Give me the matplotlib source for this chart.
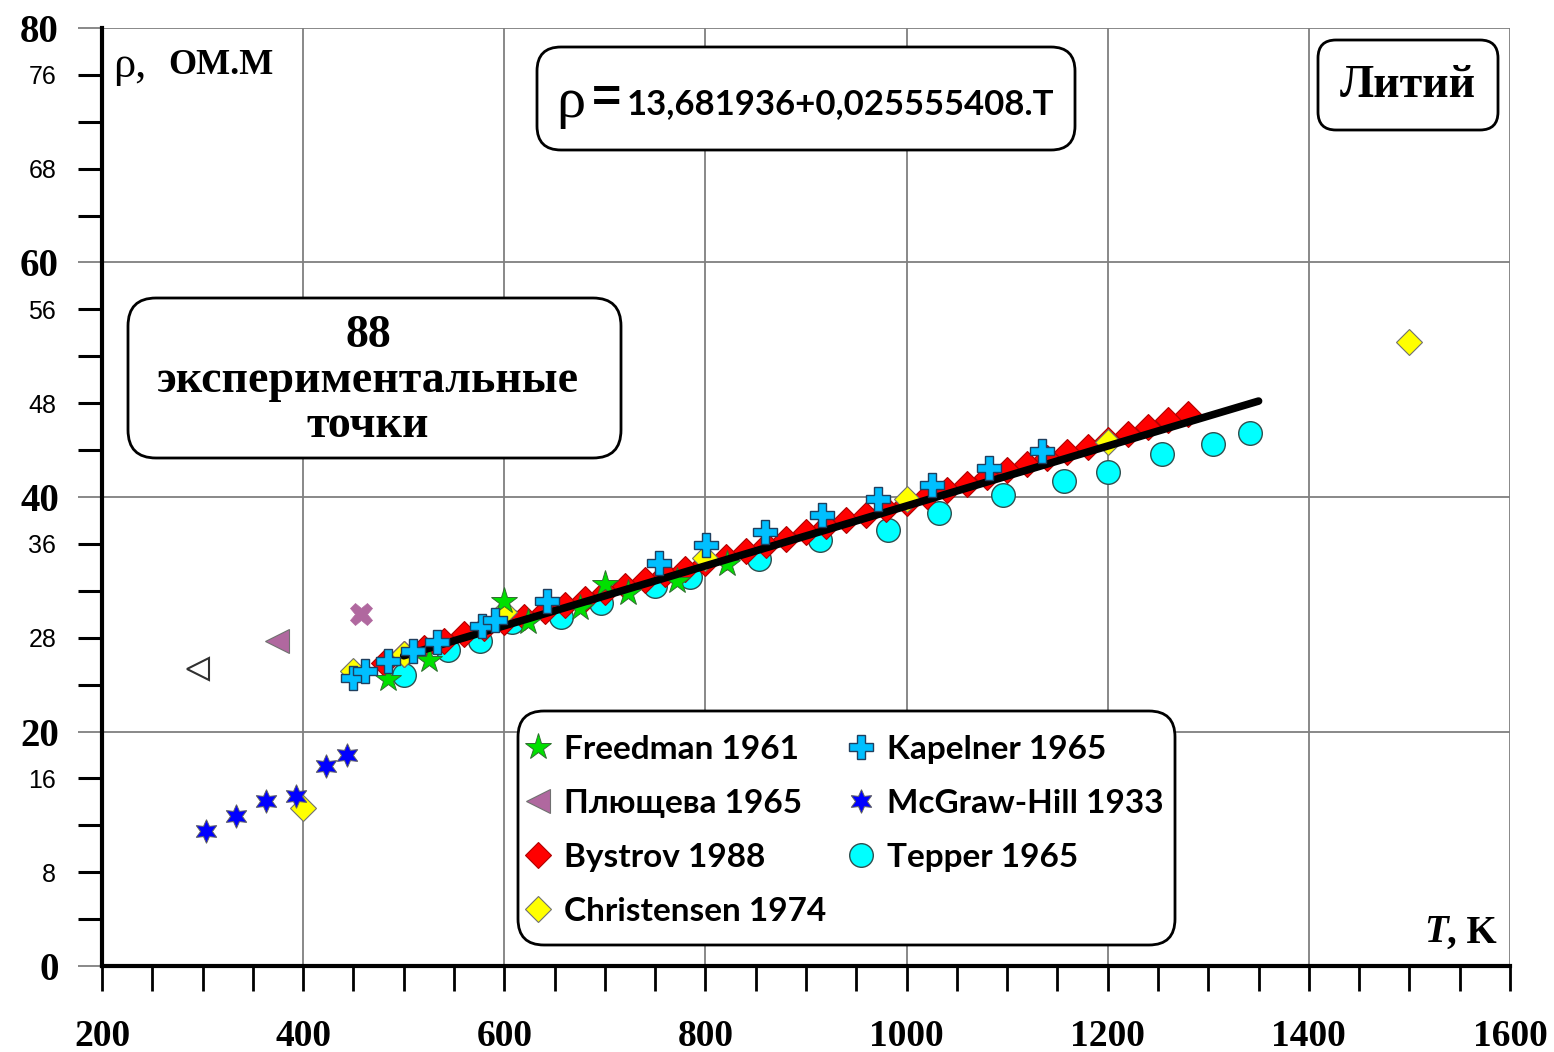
import numpy as np
import matplotlib
matplotlib.use("Agg")
import matplotlib.pyplot as plt
from matplotlib.patches import FancyBboxPatch
from matplotlib.transforms import IdentityTransform
from matplotlib.ticker import FixedLocator, FixedFormatter

W, H = 1554, 1052
SERIF = "Liberation Serif"
SANS = "Liberation Sans"
CAL = ["Lato", "Open Sans"]

# --- data (T in K, rho) ---
freedman_T = [484, 525, 600, 624, 675, 700, 723, 772, 821]
freedman_r = [24.5, 26.1, 31.1, 29.3, 30.5, 32.6, 31.8, 32.8, 34.3]

plyush_T = [374]
plyush_r = [27.7]

bystrov_T = [480, 500, 520, 540, 560, 580, 600, 620, 640, 660, 680, 700, 720, 740,
             760, 780, 800, 820, 840, 860, 880, 900, 920, 940, 960, 980, 1000, 1020,
             1040, 1060, 1080, 1100, 1120, 1140, 1160, 1180, 1200, 1220, 1240, 1260, 1280]
bystrov_r = [25.8, 26.6, 27.1, 27.7, 28.3, 28.8, 29.3, 29.8, 30.3, 30.8, 31.3, 31.9,
             32.4, 32.9, 33.4, 33.9, 34.4, 34.9, 35.4, 35.9, 36.4, 37.0, 37.5, 38.0,
             38.5, 39.0, 39.5, 40.1, 40.6, 41.1, 41.7, 42.3, 42.8, 43.3, 43.8, 44.3,
             44.9, 45.4, 46.0, 46.6, 47.1]

christ_T = [400, 450, 500, 600, 800, 1000, 1200, 1500]
christ_r = [13.5, 25.2, 26.6, 30.2, 34.8, 39.8, 44.7, 53.2]

kapel_T = [450, 462, 484, 509, 533, 578, 591, 642, 754, 801, 859, 916, 972, 1025, 1082, 1135]
kapel_r = [24.6, 25.2, 26.0, 26.9, 27.6, 29.0, 29.5, 31.1, 34.4, 35.9, 37.0, 38.5,
           39.8, 41.0, 42.5, 43.9]

mcgraw_T = [303, 333, 363, 393, 423, 444]
mcgraw_r = [11.5, 12.8, 14.1, 14.5, 17.1, 18.0]

tepper_T = [500, 544, 576, 608, 656, 696, 750, 785, 853, 914, 982, 1032, 1096,
            1157, 1200, 1254, 1305, 1341]
tepper_r = [24.8, 26.95, 27.7, 29.3, 29.8, 31.0, 32.4, 33.2, 34.7, 36.3, 37.2,
            38.6, 40.2, 41.4, 42.1, 43.7, 44.5, 45.5]

cross_T, cross_r = [458], [30.0]
open_tri_T, open_tri_r = [295], [25.3]

fit_a, fit_b = 13.681936, 0.025555408
fit_T = [500, 1350]

y_minor = [4, 8, 12, 16, 24, 28, 32, 36, 44, 48, 52, 56, 64, 68, 72, 76]
y_minor_labels = ["", "8", "", "16", "", "28", "", "36", "", "48", "", "56", "", "68", "", "76"]


def fx(px):
    return px / W


def fy(py):
    return 1 - py / H


def rbox(fig, x0, y0, x1, y1, r=22, lw=2.0):
    p = FancyBboxPatch((x0, H - y1), x1 - x0, y1 - y0,
                       boxstyle="round,pad=0,rounding_size=%d" % r,
                       transform=IdentityTransform(), facecolor="white",
                       edgecolor="black", linewidth=lw, zorder=5)
    fig.add_artist(p)


fig = plt.figure(figsize=(W / 100, H / 100), dpi=100)
ax = fig.add_axes([fx(102), 86 / H, 1408 / W, 938 / H])
ax.set_xlim(200, 1600)
ax.set_ylim(0, 80)

for s in ["top", "right"]:
    ax.spines[s].set_visible(False)
for s in ["left", "bottom"]:
    ax.spines[s].set_linewidth(3)
    ax.spines[s].set_zorder(4)

ax.set_xticks(np.arange(200, 1601, 200))
ax.xaxis.set_minor_locator(FixedLocator(np.arange(250, 1600, 50)))
ax.set_yticks([0, 20, 40, 60, 80])
ax.yaxis.set_minor_locator(FixedLocator(y_minor))
ax.yaxis.set_minor_formatter(FixedFormatter(y_minor_labels))
ax.grid(True, which="major", color="#7f7f7f", linewidth=1.3, zorder=0)
ax.set_axisbelow(True)

ax.tick_params(axis="x", which="both", direction="out", length=18, width=2,
               color="black", pad=20)
ax.tick_params(axis="y", which="major", direction="out", length=17, width=1.3,
               color="#7f7f7f", labelcolor="black", pad=14)
ax.tick_params(axis="y", which="minor", direction="out", length=17, width=2.2,
               color="black", pad=16, labelsize=18)
for lbl in ax.get_xticklabels() + ax.get_yticklabels():
    lbl.set_fontfamily(SERIF)
    lbl.set_fontweight("bold")
    lbl.set_fontsize(28)
for lbl in ax.get_xticklabels():
    lbl.set_fontsize(27)
for lbl in ax.yaxis.get_minorticklabels():
    lbl.set_fontfamily(SANS)

mk = dict(linestyle="none")
ax.plot(tepper_T, tepper_r, marker="o", ms=17, mfc="#00ffff", mec="#2f4f4f", mew=1,
        label="Tepper 1965", zorder=3, **mk)
ax.plot(bystrov_T, bystrov_r, marker="D", ms=13, mfc="#ff0000", mec="#b00000", mew=0.8,
        label="Bystrov 1988", zorder=3.2, **mk)
ax.plot(christ_T, christ_r, marker="D", ms=13, mfc="#ffff00", mec="#707070", mew=0.8,
        label="Christensen 1974", zorder=3.3, **mk)
ax.plot(freedman_T, freedman_r, marker="*", ms=20, mfc="#00e000", mec="#2f6f2f", mew=0.7,
        label="Freedman 1961", zorder=3.4, **mk)
ax.plot(fit_T, [fit_a + fit_b * t for t in fit_T], color="black", lw=5.5,
        solid_capstyle="round", zorder=3.5)
ax.plot(kapel_T, kapel_r, marker="P", ms=17, mfc="#00bfff", mec="#1f3f5f", mew=1,
        label="Kapelner 1965", zorder=3.6, **mk)
ax.plot(mcgraw_T, mcgraw_r, marker=(6, 1, 0), ms=17, mfc="#0000ff", mec="#606060", mew=0.7,
        label="McGraw-Hill 1933", zorder=3.4, **mk)
ax.plot(plyush_T, plyush_r, marker="<", ms=17, mfc="#b0689f", mec="#707070", mew=0.8,
        label="Плющева 1965", zorder=3.4, **mk)
ax.plot(cross_T, cross_r, marker="X", ms=16, mfc="#b0689f", mec="#b0689f", mew=0.5,
        zorder=3.4, **mk)
ax.plot(open_tri_T, open_tri_r, marker="<", ms=16, mfc="white", mec="#303030", mew=1.5,
        zorder=3.4, **mk)

# legend: frame drawn separately so the markers can sit close to its edge
rbox(fig, 518, 711, 1175, 945, r=26)
h, l = ax.get_legend_handles_labels()
order = ["Freedman 1961", "Плющева 1965", "Bystrov 1988", "Christensen 1974",
         "Kapelner 1965", "McGraw-Hill 1933", "Tepper 1965"]
hh = [h[l.index(o)] for o in order]
leg = fig.legend(hh, order, ncol=2, loc="upper left",
                 bbox_to_anchor=(fx(528), fy(735)), bbox_transform=fig.transFigure,
                 borderaxespad=0, borderpad=0, frameon=False, numpoints=1,
                 handlelength=0.6, handletextpad=0.48, columnspacing=0.75,
                 labelspacing=0.75, prop=dict(family=CAL, weight="bold", size=24))
leg.set_zorder(6)

# equation box
rbox(fig, 537, 47, 1075, 150, r=24)
fig.text(fx(571), fy(103), "ρ", family=SERIF, size=42, ha="center", va="center", zorder=6)
fig.text(fx(607), fy(100), "=", family=SANS, size=36, weight="bold", ha="center",
         va="center", zorder=6)
fig.text(fx(627), fy(104), "13,681936+0,025555408.T", family=CAL, weight="bold", size=25,
         ha="left", va="center", zorder=6)

# Литий box
rbox(fig, 1318, 40, 1498, 130, r=18)
fig.text(fx(1408), fy(86), "Литий", family=SERIF, weight="bold", size=33,
         ha="center", va="center", zorder=6)

# 88 points box
rbox(fig, 128, 298, 621, 458, r=28)
fig.text(fx(368), fy(381), "88\nэкспериментальные\nточки", family=SERIF, weight="bold",
         size=33, ha="center", va="center", linespacing=1.08, zorder=6)

# axis captions
fig.text(fx(113), fy(66), "ρ,", family=SERIF, size=32, ha="left", va="center")
fig.text(fx(168), fy(66), "ОМ.М", family=SERIF, weight="bold", size=26, ha="left",
         va="center")
fig.text(fx(1424), fy(933), "T", family=SERIF, weight="bold", style="italic", size=28,
         ha="left", va="center")
fig.text(fx(1447), fy(933), ", K", family=SERIF, weight="bold", size=28, ha="left",
         va="center")

fig.savefig("out.png", dpi=100, facecolor="white")
